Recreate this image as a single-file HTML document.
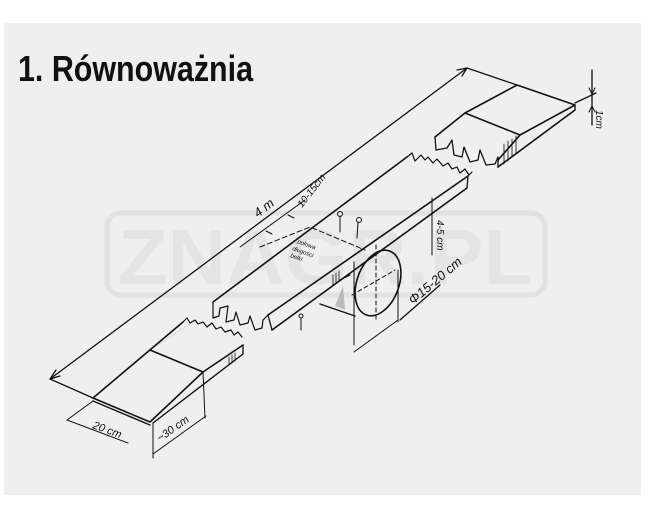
<!DOCTYPE html>
<html><head><meta charset="utf-8"><style>
html,body{margin:0;padding:0;background:#fff;}
svg{display:block;}
text{font-family:"Liberation Sans",sans-serif;}
</style></head><body>
<svg width="649" height="513" viewBox="0 0 649 513" xmlns="http://www.w3.org/2000/svg">
<rect x="0" y="0" width="649" height="513" fill="#fff"/>
<rect x="4" y="23" width="637" height="472" fill="#efefef"/>
<!-- watermark -->
<rect x="107" y="213" width="438" height="82" rx="14" fill="none" stroke="#e2e2e2" stroke-width="5"/>
<text x="118" y="284" font-size="78" font-weight="bold" fill="#e4e4e4" textLength="415" lengthAdjust="spacingAndGlyphs">ZNAGR.PL</text>
<text x="18" y="81" font-size="36" font-weight="bold" fill="#111" textLength="235" lengthAdjust="spacingAndGlyphs">1. Równoważnia</text>

<g fill="none" stroke="#111" stroke-width="1.3" stroke-linejoin="round" stroke-linecap="round">
<!-- long dimension line -->
<line x1="50" y1="379" x2="467" y2="68"/>
<line x1="50" y1="379" x2="93" y2="398"/>
<line x1="467" y1="68" x2="517" y2="85"/>
<path d="M50 379 l6 -9 M50 379 l10 -3"/>
<path d="M467 68 l-10 2 M467 68 l-5 8"/>

<!-- right piece -->
<path d="M465 113 L517 85 L575 105 L520 135 Z" stroke-width="1.6"/>
<line x1="465" y1="113" x2="435" y2="137" stroke-width="1.6"/>
<line x1="520" y1="135" x2="498" y2="160" stroke-width="1.6"/>
<line x1="498" y1="167" x2="575" y2="110" stroke-width="1.6"/>
<line x1="575" y1="105" x2="575" y2="110"/>
<path d="M435 137 L436 150 L447 148 L452 140 L454 155 L462 157 L464 147 L470 162 L478 160 L480 150 L486 165 L495 164 L498 157 L498 167" stroke-width="1.3"/>
<path d="M504 144 l0 20 M508 141 l0 20 M512 139 l0 18 M516 136 l0 18" stroke-width="0.8"/>
<line x1="575" y1="103" x2="596" y2="93"/>
<line x1="592" y1="70" x2="592" y2="125"/>
<path d="M589 88 l3 6 l3 -6 M589 112 l3 -6 l3 6" stroke-width="1"/>

<!-- middle beam -->
<path d="M213 302 L407 157" stroke-width="1.6"/>
<path d="M407 157 l5 -4 l3 8 l6 -6 l4 5 l3 -3 l5 6 l4 -4 l6 7 l5 -3 l4 6 l5 -2 l3 6 l5 -4 l4 6 l3 -3" stroke-width="1.2"/>
<path d="M268 315 L468 176" stroke-width="1.6"/>
<path d="M272 330 L467 188" stroke-width="1.6"/>
<path d="M268 315 L272 330 M468 176 L467 188"/>
<path d="M213 302 L213 318 L219 316 L220 308 L228 306 L226 322 L234 320 L236 312 L240 325 L248 323 L250 316 L255 330 L262 328 L263 320 L268 315" stroke-width="1.2"/>
<path d="M333 275 l0 10 M336 273 l0 10 M339 271 l0 10" stroke-width="0.8"/>
<!-- center dash line -->
<path d="M260 247 L310 227 L365 250" stroke-dasharray="5 3" stroke-width="1"/>
<line x1="240" y1="247" x2="305" y2="200" stroke-width="1"/>
<path d="M272 234 l-6 -3 M294 218 l-6 -3" stroke-width="1"/>
<line x1="340" y1="216" x2="340" y2="232" stroke-width="1"/>
<circle cx="340" cy="214" r="2.5" stroke-width="1"/>
<line x1="358" y1="222" x2="357" y2="238" stroke-width="1"/>
<circle cx="359" cy="220" r="2.5" stroke-width="1"/>
<line x1="301" y1="318" x2="301" y2="330" stroke-width="1"/>
<circle cx="301" cy="316" r="2" stroke-width="1"/>
<!-- cylinder -->
<ellipse cx="378" cy="283" rx="21" ry="34" transform="rotate(20 378 283)" stroke-width="1.6"/>
<path d="M320 304 L355 316" stroke-width="1.4"/>
<path d="M340 280 L350 275" stroke-width="1.2"/>
<line x1="354" y1="262" x2="354" y2="345" stroke-width="1"/>
<line x1="376" y1="245" x2="376" y2="320" stroke-width="1" stroke-dasharray="4 3"/>
<line x1="352" y1="295" x2="395" y2="270" stroke-width="1" stroke-dasharray="4 3"/>
<path d="M343 286 l-8 20 l10 4 Z" fill="#bbb" stroke="none"/>
<line x1="354" y1="352" x2="398" y2="320" stroke-width="1"/>
<line x1="398" y1="270" x2="398" y2="322" stroke-width="1"/>
<line x1="400" y1="320" x2="440" y2="285"/>
<!-- 4-5 cm -->
<line x1="432" y1="198" x2="432" y2="255" stroke-width="1"/>

<!-- left piece -->
<path d="M93 398 L183 322 M150 350 L203 372 M93 398 L150 422 L203 372" stroke-width="1.6"/>
<line x1="93" y1="401" x2="150" y2="425" stroke-width="1.4"/>
<path d="M183 322 l4 -4 l3 5 l5 -3 l3 4 l5 -2 l4 5 l5 -4 l4 6 l5 -2 l4 5 l6 -2 l3 5 l4 -3 l4 5" stroke-width="1.2"/>
<path d="M150 350 L196 320" stroke-width="0.1"/>
<line x1="203" y1="372" x2="243" y2="345" stroke-width="1.6"/>
<line x1="153" y1="423" x2="243" y2="354" stroke-width="1.4"/>
<line x1="243" y1="345" x2="243" y2="354"/>
<path d="M229 357 l0 8 M232 355 l0 8 M235 353 l0 8" stroke-width="0.8"/>
<line x1="203" y1="372" x2="205" y2="418" stroke-width="1"/>
<line x1="153" y1="423" x2="153" y2="458" stroke-width="1"/>
<line x1="153" y1="454" x2="206" y2="416" stroke-width="1"/>
<line x1="93" y1="401" x2="67" y2="420" stroke-width="1"/>
<line x1="67" y1="420" x2="128" y2="443" stroke-width="1"/>
</g>

<g fill="#111" font-style="italic">
<text transform="translate(258 218) rotate(-38)" font-size="13">4 m</text>
<text transform="translate(302 208) rotate(-52)" font-size="10">10-15cm</text>
<text transform="translate(413 305) rotate(-40)" font-size="13">Φ15-20 cm</text>
<text transform="translate(437 220) rotate(90)" font-size="10">4-5 cm</text>
<text transform="translate(596 110) rotate(90)" font-size="10">1cm</text>
<text transform="translate(92 428) rotate(20)" font-size="11">20 cm</text>
<text transform="translate(160 442) rotate(-35)" font-size="11">~30 cm</text>
<text transform="translate(297 243) rotate(20)" font-size="6">połowa</text>
<text transform="translate(292 250) rotate(20)" font-size="6">długości</text>
<text transform="translate(290 257) rotate(20)" font-size="6">belki</text>
</g>
</svg>
</body></html>
